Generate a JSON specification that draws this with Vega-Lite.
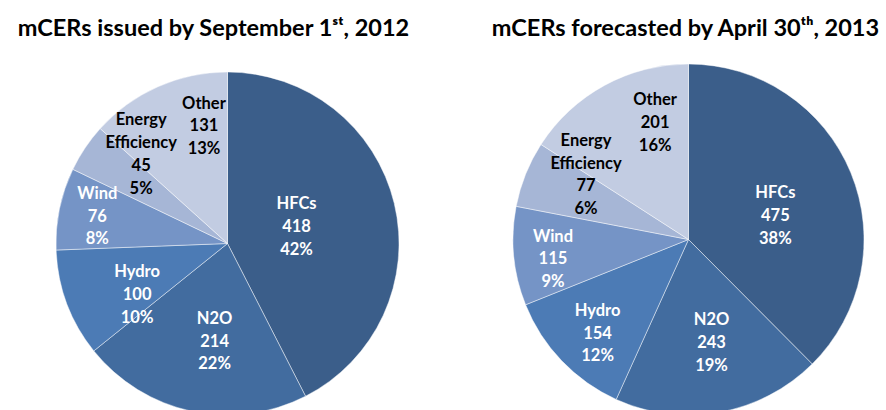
{
  "$schema": "https://vega.github.io/schema/vega-lite/v6.json",
  "width": 886,
  "height": 410,
  "autosize": {"type": "none"},
  "padding": 0,
  "background": "white",
  "config": {"view": {"stroke": null}},
  "datasets": {
    "mcers": [
      {"chart": "2012", "idx": 1, "source": "HFCs", "mCERs": 418, "pct": "42%"},
      {"chart": "2012", "idx": 2, "source": "N2O", "mCERs": 214, "pct": "22%"},
      {"chart": "2012", "idx": 3, "source": "Hydro", "mCERs": 100, "pct": "10%"},
      {"chart": "2012", "idx": 4, "source": "Wind", "mCERs": 76, "pct": "8%"},
      {"chart": "2012", "idx": 5, "source": "Energy Efficiency", "mCERs": 45, "pct": "5%"},
      {"chart": "2012", "idx": 6, "source": "Other", "mCERs": 131, "pct": "13%"},
      {"chart": "2013", "idx": 1, "source": "HFCs", "mCERs": 475, "pct": "38%"},
      {"chart": "2013", "idx": 2, "source": "N2O", "mCERs": 243, "pct": "19%"},
      {"chart": "2013", "idx": 3, "source": "Hydro", "mCERs": 154, "pct": "12%"},
      {"chart": "2013", "idx": 4, "source": "Wind", "mCERs": 115, "pct": "9%"},
      {"chart": "2013", "idx": 5, "source": "Energy Efficiency", "mCERs": 77, "pct": "6%"},
      {"chart": "2013", "idx": 6, "source": "Other", "mCERs": 201, "pct": "16%"}
    ],
    "titles": [
      {"chart": "2012", "title": "mCERs issued by September 1ˢᵗ, 2012"},
      {"chart": "2013", "title": "mCERs forecasted by April 30ᵗʰ, 2013"}
    ]
  },
  "layer": [
    {
      "data": {"name": "mcers"},
      "transform": [
        {"filter": "datum.chart == '2012'"},
        {"calculate": "replace(datum.source, ' ', '\\n') + '\\n' + datum.mCERs + '\\n' + datum.pct", "as": "label"}
      ],
      "encoding": {
        "x": {"field": "chart", "type": "nominal", "scale": {"type": "point", "domain": ["2012", "2013"], "range": [227.5, 688.5], "padding": 0}, "axis": null},
        "y": {"field": "chart", "type": "nominal", "scale": {"type": "point", "domain": ["2012", "2013"], "range": [243.5, 239.5], "padding": 0}, "axis": null},
        "theta": {"field": "mCERs", "type": "quantitative", "stack": "zero"},
        "order": {"field": "idx", "type": "quantitative"}
      },
      "layer": [
        {
          "mark": {"type": "arc", "outerRadius": 171.5, "stroke": "#ffffff", "strokeWidth": 1, "strokeOpacity": 0.45},
          "encoding": {
            "color": {"field": "source", "type": "nominal", "legend": null,
              "scale": {"domain": ["HFCs", "N2O", "Hydro", "Wind", "Energy Efficiency", "Other"],
                        "range": ["#3B5E8A", "#426C9F", "#4C7BB5", "#7594C6", "#A6B6D6", "#C2CCE2"]}}
          }
        },
        {
          "mark": {"type": "text", "font": "Lato", "fontWeight": "bold", "fontSize": 16.5, "lineHeight": 22.7, "lineBreak": "\n", "align": "center", "baseline": "middle",
            "dy": {"expr": "datum.source == 'Energy Efficiency' ? -34 : -22.7"},
            "radius": {"expr": "datum.source == 'HFCs' ? 71 : datum.source == 'N2O' ? 99 : datum.source == 'Hydro' ? 104 : datum.source == 'Wind' ? 133 : datum.source == 'Other' ? 119.5 : 124"},
            "thetaOffset": {"expr": "datum.source == 'N2O' ? -0.08 : datum.source == 'Hydro' ? -0.16 : datum.source == 'Energy Efficiency' ? 0.21 : datum.source == 'Other' ? 0.22 : 0"}},
          "encoding": {
            "detail": {"field": "source", "type": "nominal"},
            "text": {"field": "label", "type": "nominal"},
            "color": {"condition": {"test": "datum.source == 'Energy Efficiency' || datum.source == 'Other'", "value": "#000000"}, "value": "#ffffff"}
          }
        }
      ]
    },
    {
      "data": {"name": "mcers"},
      "transform": [
        {"filter": "datum.chart == '2013'"},
        {"calculate": "replace(datum.source, ' ', '\\n') + '\\n' + datum.mCERs + '\\n' + datum.pct", "as": "label"}
      ],
      "encoding": {
        "x": {"field": "chart", "type": "nominal", "scale": {"type": "point", "domain": ["2012", "2013"], "range": [227.5, 688.5], "padding": 0}, "axis": null},
        "y": {"field": "chart", "type": "nominal", "scale": {"type": "point", "domain": ["2012", "2013"], "range": [243.5, 239.5], "padding": 0}, "axis": null},
        "theta": {"field": "mCERs", "type": "quantitative", "stack": "zero"},
        "order": {"field": "idx", "type": "quantitative"}
      },
      "layer": [
        {
          "mark": {"type": "arc", "outerRadius": 175.5, "stroke": "#ffffff", "strokeWidth": 1, "strokeOpacity": 0.45},
          "encoding": {
            "color": {"field": "source", "type": "nominal", "legend": null,
              "scale": {"domain": ["HFCs", "N2O", "Hydro", "Wind", "Energy Efficiency", "Other"],
                        "range": ["#3B5E8A", "#426C9F", "#4C7BB5", "#7594C6", "#A6B6D6", "#C2CCE2"]}}
          }
        },
        {
          "mark": {"type": "text", "font": "Lato", "fontWeight": "bold", "fontSize": 16.5, "lineHeight": 22.7, "lineBreak": "\n", "align": "center", "baseline": "middle",
            "dy": {"expr": "datum.source == 'Energy Efficiency' ? -34 : -22.7"},
            "radius": {"expr": "datum.source == 'HFCs' ? 90 : datum.source == 'N2O' ? 106 : datum.source == 'Hydro' ? 131 : datum.source == 'Wind' ? 137 : 121"},
            "thetaOffset": {"expr": "datum.source == 'HFCs' ? 0.126 : datum.source == 'N2O' ? -0.04 : datum.source == 'Hydro' ? -0.04 : datum.source == 'Wind' ? -0.05 : datum.source == 'Energy Efficiency' ? 0.18 : 0.22"}},
          "encoding": {
            "detail": {"field": "source", "type": "nominal"},
            "text": {"field": "label", "type": "nominal"},
            "color": {"condition": {"test": "datum.source == 'Energy Efficiency' || datum.source == 'Other'", "value": "#000000"}, "value": "#ffffff"}
          }
        }
      ]
    },
    {
      "data": {"name": "titles"},
      "mark": {"type": "text", "font": "Lato", "fontWeight": "bold", "fontSize": 23.5, "align": "center", "baseline": "alphabetic", "y": 36, "color": "#000000",
        "dx": {"expr": "datum.chart == '2012' ? -14 : -3"}},
      "encoding": {
        "x": {"field": "chart", "type": "nominal", "scale": {"type": "point", "domain": ["2012", "2013"], "range": [227.5, 688.5], "padding": 0}, "axis": null},
        "text": {"field": "title", "type": "nominal"}
      }
    }
  ],
  "resolve": {"scale": {"theta": "independent"}}
}
